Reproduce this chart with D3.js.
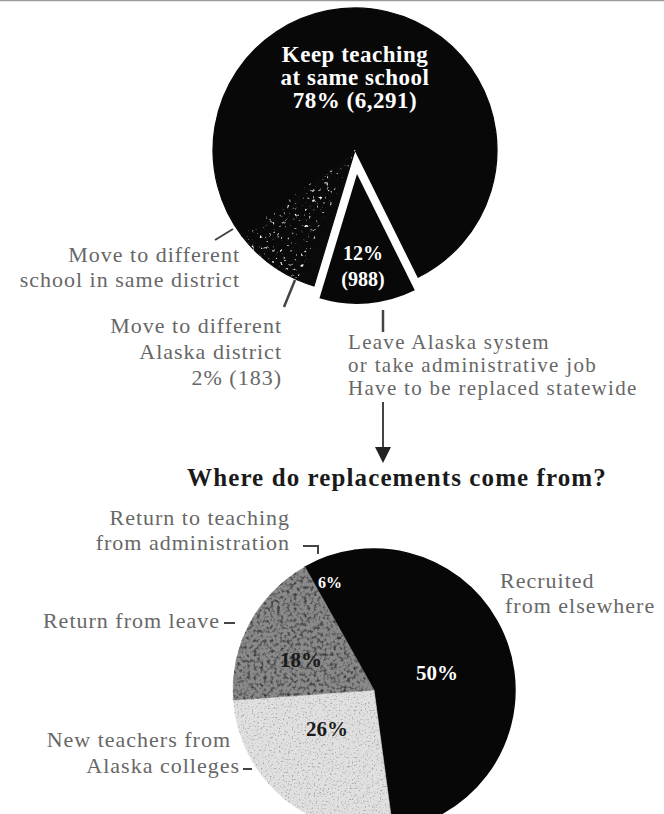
<!DOCTYPE html>
<html>
<head>
<meta charset="utf-8">
<script src="https://cdn.jsdelivr.net/npm/d3@7/dist/d3.min.js"></script>
<style>
  html, body { margin: 0; padding: 0; background: #fff; }
  svg { display: block; }
  .lbl { font-family: "Liberation Serif", "DejaVu Serif", serif; fill: #676767; font-size: 22px; letter-spacing: 1px; }
  .bold { font-family: "Liberation Serif", "DejaVu Serif", serif; font-weight: bold; }
</style>
</head>
<body>
<script>
// What happens to Alaska's teachers from one year to the next
const stayCategories = [
  "Keep teaching at same school",
  "Leave Alaska system or take administrative job",
  "Move to different Alaska district",
  "Move to different school in same district"
];
const stayShares = [78, 12, 2, 8];
const stayCounts = [6291, 988, 183, null];

// Where the replacement teachers come from
const sourceCategories = [
  "Return to teaching from administration",
  "Recruited from elsewhere",
  "New teachers from Alaska colleges",
  "Return from leave"
];
const sourceShares = [6, 50, 26, 18];

const title = "Where do replacements come from?";

const W = 664, H = 814;
const deg = Math.PI / 180;
const fmt = d3.format(",");

const svg = d3.select("body").append("svg").attr("width", W).attr("height", H);
const defs = svg.append("defs");

// Halftone-like grain: noise mapped to spots of one colour, clipped to the shape
function grain(id, rgb, freq, seed, slope, offset) {
  const f = defs.append("filter").attr("id", id)
    .attr("x", "-5%").attr("y", "-5%").attr("width", "110%").attr("height", "110%")
    .attr("color-interpolation-filters", "sRGB");
  f.append("feTurbulence").attr("type", "fractalNoise").attr("baseFrequency", freq)
    .attr("numOctaves", 2).attr("seed", seed).attr("result", "noise");
  const c = d3.color(rgb);
  f.append("feColorMatrix").attr("in", "noise").attr("type", "matrix")
    .attr("values", `0 0 0 0 ${c.r/255} 0 0 0 0 ${c.g/255} 0 0 0 0 ${c.b/255} ${slope} 0 0 0 ${offset}`)
    .attr("result", "spots");
  f.append("feComposite").attr("in", "spots").attr("in2", "SourceGraphic").attr("operator", "in").attr("result", "clipped");
  const m = f.append("feMerge");
  m.append("feMergeNode").attr("in", "SourceGraphic");
  m.append("feMergeNode").attr("in", "clipped");
}
grain("speckWhite", "#ffffff", 0.28, 4, 6, -3.85);
grain("mottleDark", "#303030", 0.3, 9, 2.6, -1.2);
grain("speckGray", "#a4a4a4", 0.55, 2, 4, -2.25);

// thin rule along the top edge
svg.append("line").attr("x1", 0).attr("x2", W).attr("y1", 0.5).attr("y2", 0.5)
  .attr("stroke", "#9a9a9a").attr("stroke-width", 1.5);

// ---------- Top pie ----------
const topPos = { cx: 355, cy: 150, r: 142 };
const topStart = -127.2 * deg;
const topPie = d3.pie().sort(null).value(d => d.share)
  .startAngle(topStart).endAngle(topStart + 2 * Math.PI);
const topData = topPie(stayCategories.map((c, i) => ({ cat: c, share: stayShares[i], count: stayCounts[i] })));
const topArc = d3.arc().innerRadius(0).outerRadius(topPos.r);
const topFills = ["#080808", "#080808", "#0a0a0a", "#0a0a0a"];
const topFilters = [null, null, null, "url(#speckWhite)"];

const gTop = svg.append("g").attr("transform", `translate(${topPos.cx},${topPos.cy})`);
gTop.selectAll("path.slice")
  .data(topData.filter((d, i) => i !== 1))
  .join("path").attr("class", "slice")
  .attr("d", topArc)
  .attr("fill", d => topFills[d.index])
  .attr("stroke", d => topFills[d.index]).attr("stroke-width", 1.2)
  .attr("filter", d => topFilters[d.index]);

// exploded wedge for teachers who leave
const wedge = topData[1];
const mid = (wedge.startAngle + wedge.endAngle) / 2;
const explode = 24;
const wedgeArc = d3.arc().innerRadius(0).outerRadius(130);
gTop.append("path")
  .attr("transform", `translate(${Math.sin(mid) * explode},${-Math.cos(mid) * explode})`)
  .attr("d", wedgeArc(wedge))
  .attr("fill", topFills[1]);

// labels inside the top pie
const keep = topData[0].data;
const keepLines = ["Keep teaching", "at same school", `${keep.share}% (${fmt(keep.count)})`];
gTop.append("text").attr("class", "bold")
  .attr("fill", "#fff").attr("font-size", 23).attr("text-anchor", "middle")
  .style("letter-spacing", "0.5px")
  .selectAll("tspan").data(keepLines).join("tspan")
  .attr("x", 0).attr("y", (d, i) => -88 + i * 23).text(d => d);

const leave = wedge.data;
gTop.append("text").attr("class", "bold")
  .attr("fill", "#fff").attr("font-size", 20).attr("text-anchor", "middle")
  .selectAll("tspan").data([`${leave.share}%`, `(${fmt(leave.count)})`]).join("tspan")
  .attr("x", 8).attr("y", (d, i) => 110 + i * 26).text(d => d);

// labels outside the pies
function lines(xs, y, arr, step, anchor, size) {
  const t = svg.append("text").attr("class", "lbl").attr("text-anchor", anchor);
  if (size) t.style("font-size", size + "px").style("letter-spacing", "1.3px");
  t.selectAll("tspan").data(arr).join("tspan")
    .attr("x", (d, i) => Array.isArray(xs) ? xs[i] : xs)
    .attr("y", (d, i) => y + i * step).text(d => d);
}
function rule(x1, y1, x2, y2, w) {
  svg.append("line").attr("x1", x1).attr("y1", y1).attr("x2", x2).attr("y2", y2)
    .attr("stroke", "#444").attr("stroke-width", w || 2);
}

lines(240, 262, ["Move to different", "school in same district"], 25, "end");
rule(215, 240, 233, 229);

const otherDistrict = topData[2].data;
lines(282, 333, ["Move to different", "Alaska district", `${otherDistrict.share}% (${otherDistrict.count})`], 26, "end");
rule(284, 307, 295, 280, 2.5);

lines(348, 349, ["Leave Alaska system", "or take administrative job", "Have to be replaced statewide"], 23, "start", 21);
rule(383, 310, 383, 332, 2.5);

// arrow leading to the second pie
rule(383, 402, 383, 452, 2);
svg.append("path")
  .attr("d", d3.line()([[375, 447], [391, 447], [383, 463]]) + "Z")
  .attr("fill", "#222");

svg.append("text").attr("class", "bold")
  .attr("x", 397).attr("y", 486).attr("text-anchor", "middle")
  .attr("font-size", 25).attr("fill", "#1a1a1a").style("letter-spacing", "1.1px")
  .text(title);

// ---------- Bottom pie ----------
const botPos = { cx: 374, cy: 690, r: 141 };
const botStart = -29.3 * deg;
const botPie = d3.pie().sort(null).value(d => d.share)
  .startAngle(botStart).endAngle(botStart + 2 * Math.PI);
const botData = botPie(sourceCategories.map((c, i) => ({ cat: c, share: sourceShares[i] })));
const botArc = d3.arc().innerRadius(0).outerRadius(botPos.r);
const botFills = ["#070707", "#070707", "#e0e0e0", "#8a8a8a"];
const botFilters = [null, null, "url(#speckGray)", "url(#mottleDark)"];

const gBot = svg.append("g").attr("transform", `translate(${botPos.cx},${botPos.cy})`);
gBot.selectAll("path.slice").data(botData).join("path").attr("class", "slice")
  .attr("d", botArc)
  .attr("fill", (d, i) => botFills[i])
  .attr("stroke", (d, i) => botFills[i]).attr("stroke-width", (d, i) => i < 2 ? 1.4 : 0.6)
  .attr("filter", (d, i) => botFilters[i]);

// percentage labels placed inside each slice
const pctPos = [[-44, -108], [63, -17], [-47, 39], [-73, -30]];
const pctFill = ["#fff", "#fff", "#1a1a1a", "#1a1a1a"];
gBot.selectAll("text.pct").data(botData).join("text").attr("class", "bold pct")
  .attr("x", (d, i) => pctPos[i][0]).attr("y", (d, i) => pctPos[i][1])
  .attr("text-anchor", "middle").attr("dominant-baseline", "central")
  .attr("font-size", (d, i) => i === 0 ? 16 : 21)
  .attr("fill", (d, i) => pctFill[i])
  .text(d => `${d.data.share}%`);

lines(290, 525, ["Return to teaching", "from administration"], 25, "end");
svg.append("path").attr("d", "M303,546 H318 V554").attr("fill", "none")
  .attr("stroke", "#444").attr("stroke-width", 2);

lines([500, 505], 588, ["Recruited", "from elsewhere"], 25, "start");

lines(220, 628, ["Return from leave"], 0, "end");
rule(224, 623, 235, 623);

lines(231, 747, ["New teachers from"], 0, "end");
lines(240, 773, ["Alaska colleges"], 0, "end");
rule(243, 769, 252, 769);
</script>
</body>
</html>
